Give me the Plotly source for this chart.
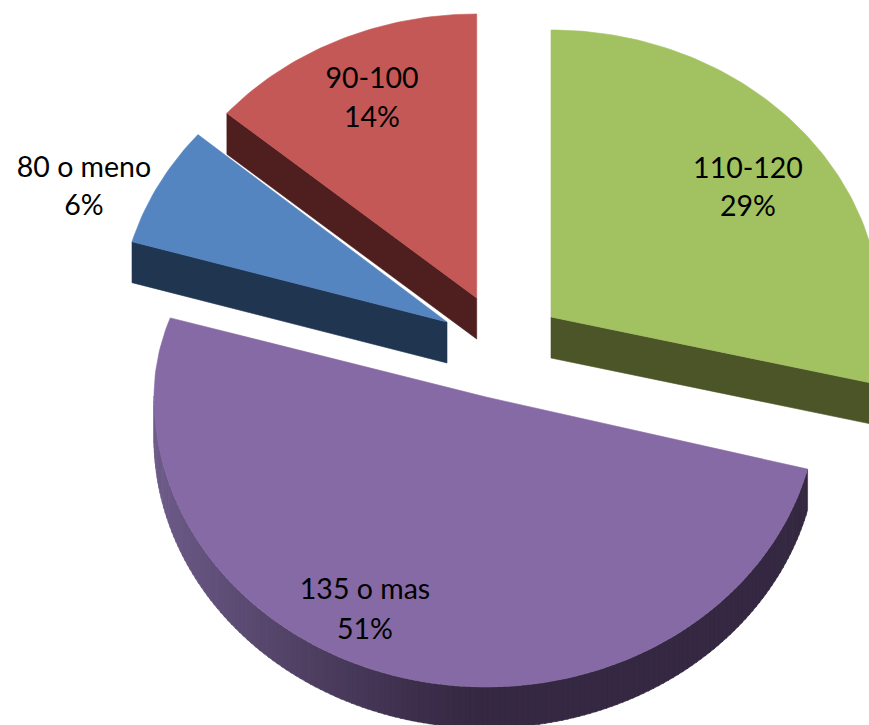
import math
import plotly.graph_objects as go

# --- chart data ---
categories = ["110-120", "135 o mas", "80 o meno", "90-100"]
percent = [29, 51, 6, 14]

# --- styling and layout ---
top_colors = ["#A2C161", "#866AA5", "#5585C1", "#C45856"]
side_colors = ["#4B5527", "#352842", "#203550", "#4E1F1E"]
# exploded centre x, y, horizontal radius, back radius, front radius
geometry = [
    (551, 317, 330, 287, 265),
    (486, 397, 332, 256, 290),
    (447, 322, 328, 288, 288),
    (476.7, 298, 329, 284, 284),
]
# small perspective correction of each slice's start and end angle, in degrees
perspective = [(0, 0), (0, 0), (-1.8, 1.0), (1.0, 0)]
label_xy = [(748, 171, 209), (365, 592, 632), (84, 170, 208), (372, 81, 120)]
DEPTH = 41
WIDTH, HEIGHT = 869, 725


def point(g, angle):
    cx, cy, a, back, front = g
    c = math.cos(angle)
    return cx + a * math.sin(angle), cy - (back if c > 0 else front) * c


def mix(c1, c2, f):
    a = [int(c1[i:i + 2], 16) for i in (1, 3, 5)]
    b = [int(c2[i:i + 2], 16) for i in (1, 3, 5)]
    return "rgb(%d,%d,%d)" % tuple(round(p + (q - p) * f) for p, q in zip(a, b))


def polygon(pts, color):
    return go.Scatter(
        x=[p[0] for p in pts] + [pts[0][0]],
        y=[p[1] for p in pts] + [pts[0][1]],
        mode="lines", fill="toself", fillcolor=color,
        line=dict(color=color, width=0.6),
        hoverinfo="skip", showlegend=False,
    )


fig = go.Figure()
total = sum(percent)
spans = []
cum = 0
for v, (ds, de) in zip(percent, perspective):
    spans.append((cum / total * 2 * math.pi + math.radians(ds),
                  (cum + v) / total * 2 * math.pi + math.radians(de)))
    cum += v

for i in [3, 2, 0, 1]:
    g = geometry[i]
    start, end = spans[i]
    cx, cy = g[0], g[1]
    # flat cut face of the slice, when it faces the viewer
    if i in (0, 2, 3):
        edge = end if i == 0 else start
        p = point(g, edge)
        fig.add_trace(polygon([(cx, cy), p, (p[0], p[1] + DEPTH), (cx, cy + DEPTH)], side_colors[i]))
    # curved outer wall on the front half
    lo, hi = max(start, math.pi / 2), min(end, 3 * math.pi / 2)
    if hi > lo:
        steps = max(2, int((hi - lo) / math.radians(1)))
        for k in range(steps):
            t0 = lo + (hi - lo) * k / steps
            t1 = lo + (hi - lo) * (k + 1) / steps + 0.004
            p0, p1 = point(g, t0), point(g, t1)
            # shading: lighter at the far left, dark from the centre to the right
            left = (cx - p0[0]) / g[2]
            color = mix(side_colors[i], "#6E5C8A", max(0.0, left) ** 1.25)
            fig.add_trace(polygon([p0, p1, (p1[0], p1[1] + DEPTH), (p0[0], p0[1] + DEPTH)], color))
    # top face
    n = max(8, int((end - start) / math.radians(1)))
    arc = [point(g, start + (end - start) * k / n) for k in range(n + 1)]
    fig.add_trace(polygon([(cx, cy)] + arc, top_colors[i]))

font = dict(family="Lato, Carlito, Calibri, sans-serif", size=28.5, color="#000000")
fig.add_trace(go.Scatter(
    x=[q[0] for q in label_xy], y=[q[1] for q in label_xy], text=categories,
    mode="text", textposition="middle center", textfont=font,
    hoverinfo="skip", showlegend=False))
fig.add_trace(go.Scatter(
    x=[q[0] for q in label_xy], y=[q[2] for q in label_xy], text=[f"{v}%" for v in percent],
    mode="text", textposition="middle center", textfont=font,
    hoverinfo="skip", showlegend=False))

fig.update_layout(
    width=WIDTH, height=HEIGHT, margin=dict(l=0, r=0, t=0, b=0),
    paper_bgcolor="white", plot_bgcolor="white", showlegend=False,
    xaxis=dict(range=[0, WIDTH], visible=False, fixedrange=True),
    yaxis=dict(range=[HEIGHT, 0], visible=False, fixedrange=True),
)
fig.write_html(
    "out.html",
    config={"displayModeBar": False},
    post_script="document.body.style.margin='0';document.documentElement.style.overflow='hidden';",
)
